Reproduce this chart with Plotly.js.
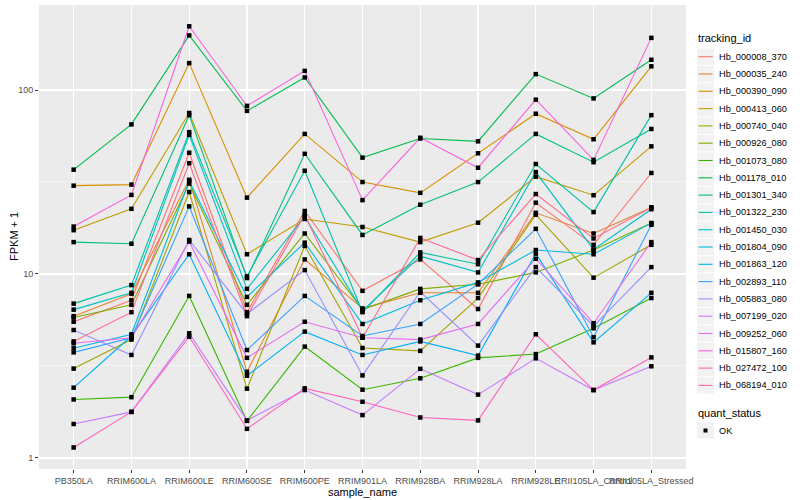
<!DOCTYPE html>
<html>
<head>
<meta charset="utf-8">
<script src="https://cdn.plot.ly/plotly-3.0.1.min.js"></script>
<style>html,body{margin:0;padding:0;background:#fff}#chart{width:800px;height:500px}</style>
</head>
<body>
<div id="chart"></div>
<script>
var categories = ["PB350LA","RRIM600LA","RRIM600LE","RRIM600SE","RRIM600PE","RRIM901LA","RRIM928BA","RRIM928LA","RRIM928LE","RRII105LA_Control","RRII105LA_Stressed"];

var trackingIds = ["Hb_000008_370","Hb_000035_240","Hb_000390_090","Hb_000413_060","Hb_000740_040","Hb_000926_080","Hb_001073_080","Hb_001178_010","Hb_001301_340","Hb_001322_230","Hb_001450_030","Hb_001804_090","Hb_001863_120","Hb_002893_110","Hb_005883_080","Hb_007199_020","Hb_009252_060","Hb_015807_160","Hb_027472_100","Hb_068194_010"];

var colors = ["#F8766D","#EA8331","#D89000","#C09B00","#A3A500","#7CAE00","#39B600","#00BB4E","#00BF7D","#00C1A3","#00BFC4","#00BAE0","#00B0F6","#35A2FF","#9590FF","#C77CFF","#E76BF3","#FA62DB","#FF62BC","#FF6C91"];

var quantStatus = ["OK"];

// FPKM + 1 per sample, one array per tracking_id
var Hb_000008_370 = [5.5, 7.2, 45.6, 6.2, 22.0, 8.1, 12.0, 6.45, 24.4, 14.4, 35.4];
var Hb_000035_240 = [5.9, 7.8, 32.5, 2.94, 12.0, 6.5, 7.9, 7.9, 21.5, 16.6, 23.0];
var Hb_000390_090 = [30.2, 30.6, 140, 26.0, 57.7, 31.6, 27.6, 45.3, 74.3, 54.0, 134.5];
var Hb_000413_060 = [17.3, 22.6, 75, 12.8, 19.9, 18.0, 14.9, 19.0, 33.8, 26.8, 49.4];
var Hb_000740_040 = [3.06, 4.4, 27.9, 2.38, 14.2, 3.96, 3.82, 7.4, 21.0, 9.55, 14.4];
var Hb_000926_080 = [5.8, 6.8, 31.0, 6.8, 16.6, 6.4, 8.3, 8.8, 10.2, 13.5, 18.9];
var Hb_001073_080 = [2.08, 2.14, 7.6, 1.59, 4.03, 2.35, 2.71, 3.5, 3.67, 5.07, 7.4];
var Hb_001178_010 = [36.9, 65, 198, 77, 117, 42.9, 54.5, 52.6, 122, 90, 146];
var Hb_001301_340 = [14.9, 14.6, 73, 9.5, 45, 16.3, 23.8, 31.6, 57.7, 40.5, 61.4];
var Hb_001322_230 = [6.9, 8.7, 59, 9.7, 36.4, 6.2, 13.1, 11.3, 39.6, 21.7, 73];
var Hb_001450_030 = [6.4, 7.9, 57, 8.3, 20.5, 6.3, 12.5, 10.2, 35.8, 13.6, 22.5];
var Hb_001804_090 = [3.95, 4.7, 32.0, 7.5, 14.8, 5.35, 7.2, 9.0, 13.5, 12.8, 18.9];
var Hb_001863_120 = [2.41, 4.6, 12.8, 2.8, 4.86, 3.63, 4.3, 3.6, 12.9, 4.25, 7.9];
var Hb_002893_110 = [3.75, 4.5, 23.3, 3.86, 7.6, 4.6, 5.35, 8.8, 17.6, 4.53, 18.5];
var Hb_005883_080 = [4.96, 3.63, 15.3, 6.07, 10.5, 2.81, 8.0, 4.08, 10.9, 5.2, 10.9];
var Hb_007199_020 = [1.53, 1.78, 4.76, 1.6, 2.34, 1.71, 3.05, 2.21, 3.48, 2.34, 3.15];
var Hb_009252_060 = [4.2, 4.5, 15.0, 3.5, 5.5, 4.5, 4.4, 5.35, 12.1, 5.4, 14.9];
var Hb_015807_160 = [18.1, 26.9, 222, 82, 127, 25.2, 55, 37.8, 88.6, 41.7, 192];
var Hb_027472_100 = [1.14, 1.78, 4.56, 1.44, 2.39, 2.02, 1.66, 1.60, 4.7, 2.34, 3.52];
var Hb_068194_010 = [4.3, 6.2, 40, 5.9, 21.0, 4.5, 15.7, 11.9, 27.2, 15.6, 23.0];

var seriesValues = [Hb_000008_370,Hb_000035_240,Hb_000390_090,Hb_000413_060,Hb_000740_040,Hb_000926_080,Hb_001073_080,Hb_001178_010,Hb_001301_340,Hb_001322_230,Hb_001450_030,Hb_001804_090,Hb_001863_120,Hb_002893_110,Hb_005883_080,Hb_007199_020,Hb_009252_060,Hb_015807_160,Hb_027472_100,Hb_068194_010];

// plot area geometry (pixels)
var W = 800, H = 500, ML = 39, MR = 114, MT = 5, MB = 31;
var PW = W - ML - MR, PH = H - MT - MB;
function pxX(p) { return (p - ML) / PW; }
function pxY(p) { return (H - MB - p) / PH; }

var traces = [];
var px = [], py = [];
for (var i = 0; i < trackingIds.length; i++) {
  traces.push({
    type: "scatter", mode: "lines", x: categories, y: seriesValues[i],
    name: trackingIds[i], line: {color: colors[i], width: 1.1},
    showlegend: false, hoverinfo: "skip"
  });
  for (var j = 0; j < categories.length; j++) { px.push(categories[j]); py.push(seriesValues[i][j]); }
}
traces.push({
  type: "scatter", mode: "markers", x: px, y: py, name: quantStatus[0],
  marker: {color: "#000000", symbol: "square", size: 4.5},
  showlegend: false, hoverinfo: "skip"
});

var fontFam = "Liberation Sans, Arial, sans-serif";

// hand-built legend in ggplot style
var shapes = [], annotations = [];
var keyL = 697, keyR = 714, keyH = 17.3, firstY = 56.7, textX = 717;
annotations.push({xref: "paper", yref: "paper", x: pxX(keyL - 1), y: pxY(38), xanchor: "left", yanchor: "middle",
  text: "tracking_id", showarrow: false, font: {size: 11, color: "#000000", family: fontFam}});
for (var k = 0; k < trackingIds.length; k++) {
  var cy = firstY + keyH * k;
  shapes.push({type: "rect", xref: "paper", yref: "paper", x0: pxX(keyL), x1: pxX(keyR),
    y0: pxY(cy - keyH / 2 + 0.5), y1: pxY(cy + keyH / 2 - 0.5), fillcolor: "#F2F2F2", line: {width: 0}, layer: "above"});
  shapes.push({type: "line", xref: "paper", yref: "paper", x0: pxX(keyL + 1.5), x1: pxX(keyR - 1.5),
    y0: pxY(cy), y1: pxY(cy), line: {color: colors[k], width: 1.1}, layer: "above"});
  annotations.push({xref: "paper", yref: "paper", x: pxX(textX), y: pxY(cy), xanchor: "left", yanchor: "middle",
    text: trackingIds[k], showarrow: false, font: {size: 9.2, color: "#000000", family: fontFam}});
}
annotations.push({xref: "paper", yref: "paper", x: pxX(keyL - 1), y: pxY(413), xanchor: "left", yanchor: "middle",
  text: "quant_status", showarrow: false, font: {size: 11, color: "#000000", family: fontFam}});
var okY = 430.5;
shapes.push({type: "rect", xref: "paper", yref: "paper", x0: pxX(keyL), x1: pxX(keyR),
  y0: pxY(okY - keyH / 2 + 0.5), y1: pxY(okY + keyH / 2 - 0.5), fillcolor: "#F2F2F2", line: {width: 0}, layer: "above"});
shapes.push({type: "rect", xref: "paper", yref: "paper", x0: pxX(703.5), x1: pxX(707.5),
  y0: pxY(okY - 2), y1: pxY(okY + 2), fillcolor: "#000000", line: {width: 0}, layer: "above"});
annotations.push({xref: "paper", yref: "paper", x: pxX(textX), y: pxY(okY), xanchor: "left", yanchor: "middle",
  text: quantStatus[0], showarrow: false, font: {size: 9.2, color: "#000000", family: fontFam}});
// y axis title
annotations.push({xref: "paper", yref: "paper", x: pxX(14), y: pxY(237), xanchor: "center", yanchor: "middle",
  text: "FPKM + 1", textangle: -90, showarrow: false, font: {size: 11, color: "#000000", family: fontFam}});

var layout = {
  width: W, height: H,
  margin: {l: ML, r: MR, t: MT, b: MB},
  paper_bgcolor: "#FFFFFF", plot_bgcolor: "#EBEBEB",
  font: {family: fontFam, color: "#000000"},
  showlegend: false,
  xaxis: {
    type: "category", range: [-0.6, 10.6], categoryorder: "array", categoryarray: categories,
    showgrid: true, gridcolor: "#FFFFFF", gridwidth: 1.1, zeroline: false, showline: false,
    ticks: "outside", ticklen: 3, tickcolor: "#333333", tickwidth: 1,
    tickfont: {size: 9, color: "#4D4D4D", family: fontFam}, tickangle: 0,
    automargin: false,
    title: {text: "sample_name", font: {size: 11, color: "#000000"}, standoff: 3}
  },
  yaxis: {
    type: "log", range: [-0.06, 2.462],
    tickvals: [1, 10, 100], ticktext: ["1", "10", "100"],
    showgrid: true, gridcolor: "#FFFFFF", gridwidth: 1.1, zeroline: false, showline: false,
    ticks: "outside", ticklen: 3, tickcolor: "#333333", tickwidth: 1,
    tickfont: {size: 9, color: "#4D4D4D", family: fontFam},
    minor: {tickvals: [3.1623, 31.623], showgrid: true, gridcolor: "#FFFFFF", gridwidth: 0.5, ticks: ""},
    automargin: false
  },
  shapes: shapes,
  annotations: annotations
};

Plotly.newPlot("chart", traces, layout, {displayModeBar: false, staticPlot: true});
</script>
</body>
</html>
